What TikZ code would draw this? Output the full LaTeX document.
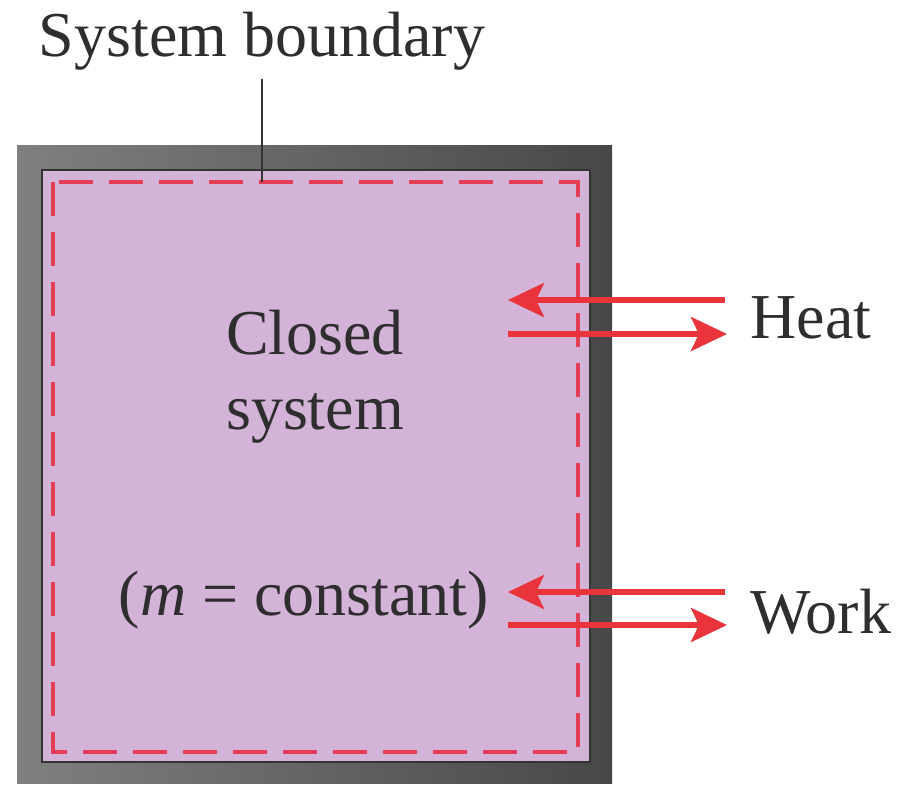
\documentclass[tikz,border=0pt]{standalone}
\usepackage{fontspec}
\setmainfont{Liberation Serif}
\usepackage{xcolor}
\definecolor{sysfill}{RGB}{212,179,216}
\definecolor{bndred}{RGB}{226,62,86}
\definecolor{arrred}{RGB}{232,52,58}
\usetikzlibrary{positioning, arrows.meta}

\begin{document}
\begin{tikzpicture}[
  x=0.5pt, y=-0.5pt,
  font=\fontsize{32}{37.5}\selectfont,
  lbl/.style={inner sep=0pt, text=black!82},
  bnd/.style={draw=bndred, line width=1.6pt, dash pattern=on 17pt off 8pt},
  arr/.style={-{Stealth[length=18pt, width=17pt, inset=4pt]}, draw=arrred,
              line width=2.6pt}
]
\useasboundingbox (0,0) rectangle (903,784);

% container wall and the gas inside
\shade[left color=black!50, right color=black!72] (17,145) rectangle (612,783);
\fill[sysfill, draw=black!80, line width=0.8pt] (42,170) rectangle (590,762);
\draw[bnd] (53,182) rectangle (578,752);

% labels
\node[lbl] (bndlabel) at (262,41) {System boundary};
\node[lbl, align=center] (closed) at (315,377) {Closed\\system};
\node[lbl] (mass) at (304,600) {(\textit{m} = constant)};
\node[lbl, anchor=west] (heat) at (750,318) {Heat};
\node[lbl, anchor=west] (work) at (750,612) {Work};

\coordinate (bndpt) at (262,182);
\draw[black!80, line width=0.9pt] (bndlabel.south) ++(0,8) -- (bndpt);

% heat and work crossing the boundary
\coordinate (heatout) at (725,300);
\coordinate (heatin)  at (508,300);
\coordinate (heatsrc) at (508,334);
\coordinate (heatend) at (727,334);
\draw[arr] (heatout) -- (heatin);
\draw[arr] (heatsrc) -- (heatend);

\coordinate (workout) at (725,592);
\coordinate (workin)  at (508,592);
\coordinate (worksrc) at (508,625);
\coordinate (workend) at (727,625);
\draw[arr] (workout) -- (workin);
\draw[arr] (worksrc) -- (workend);
\end{tikzpicture}
\end{document}
